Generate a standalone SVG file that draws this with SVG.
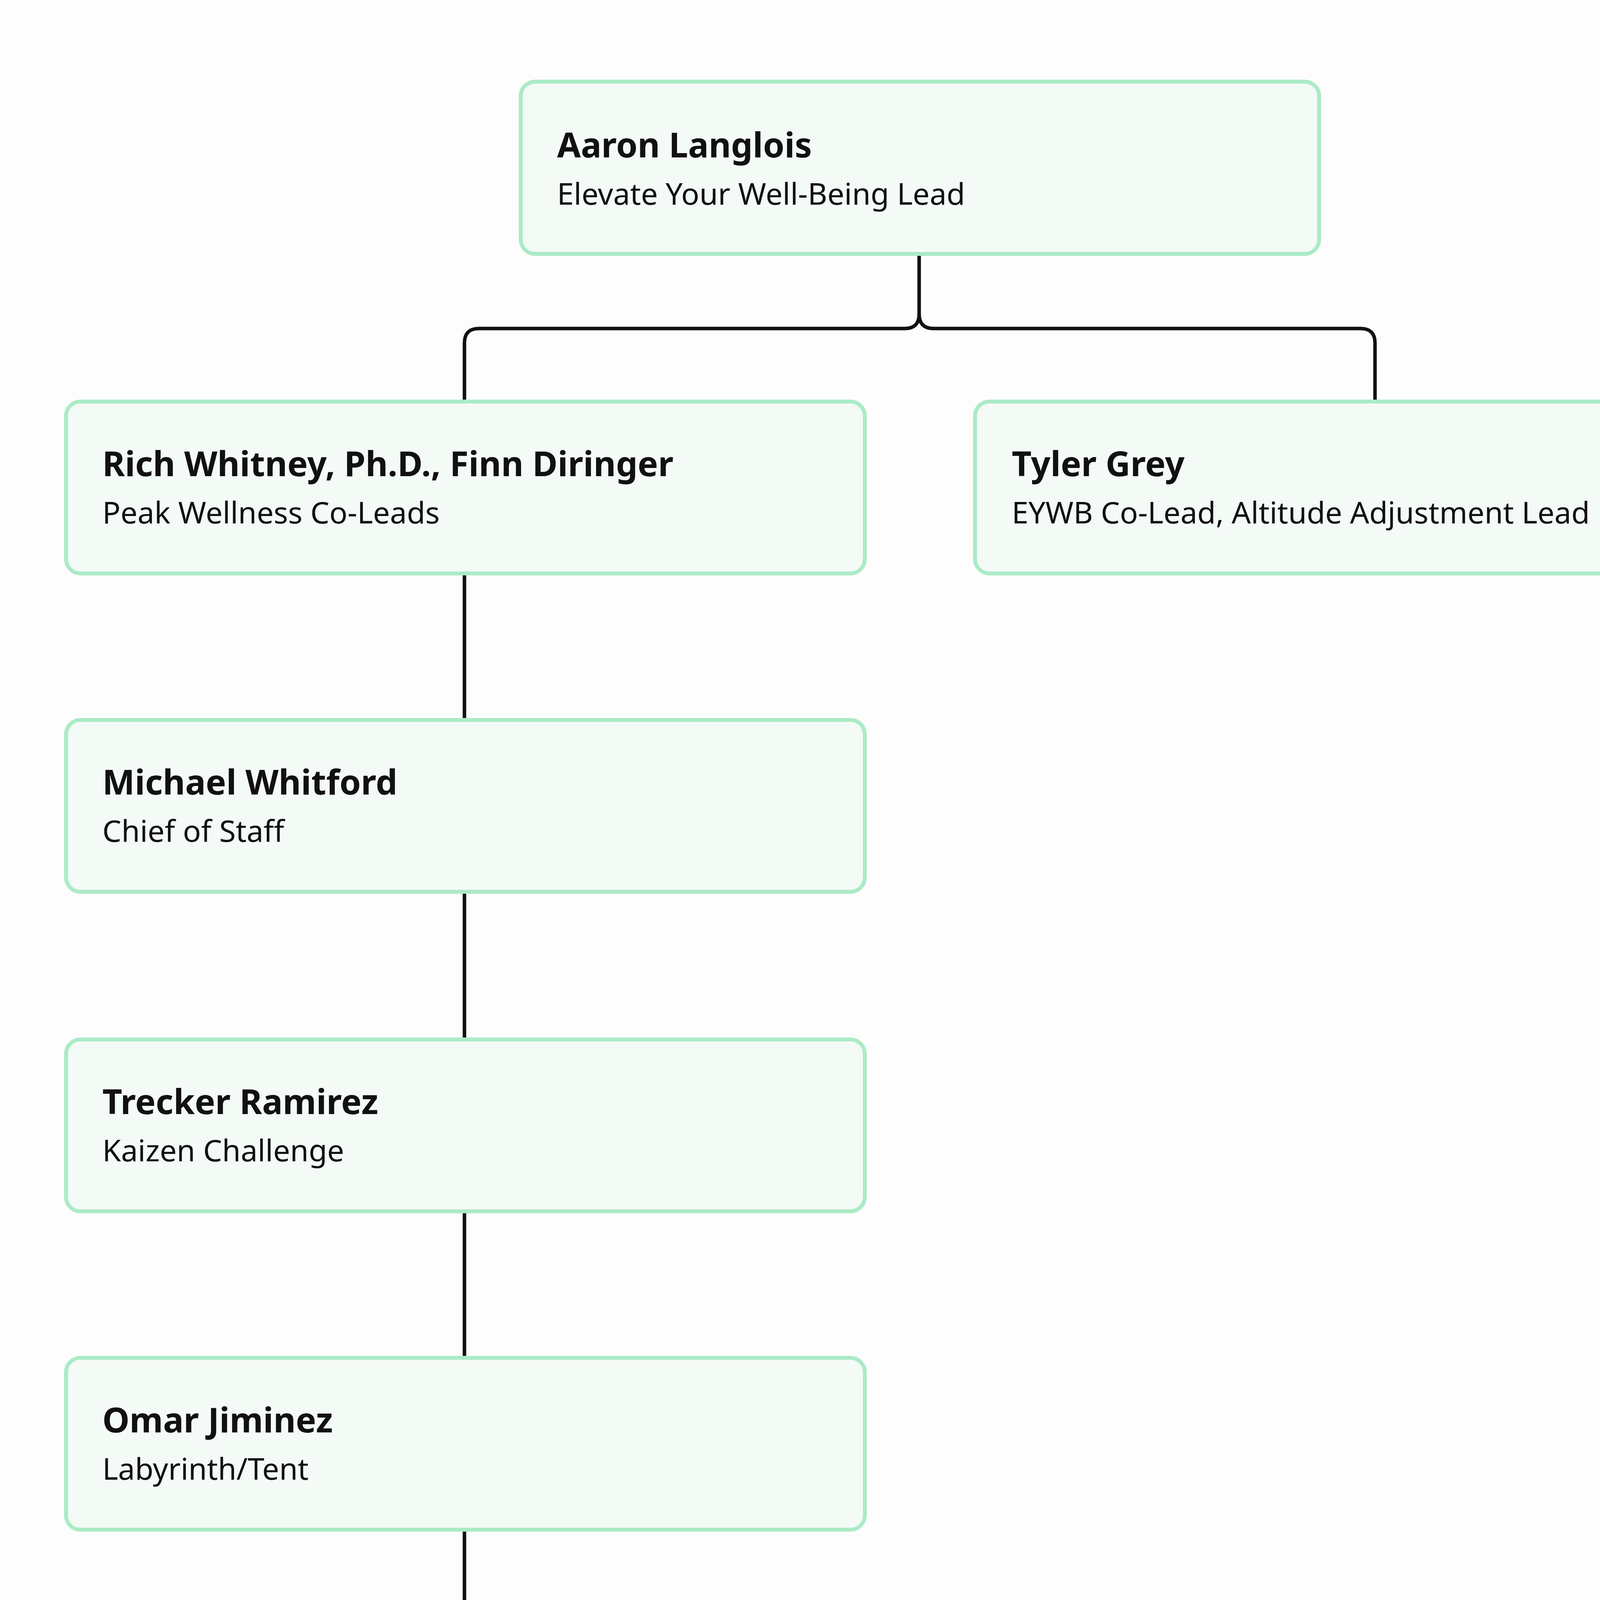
<svg xmlns="http://www.w3.org/2000/svg" width="4787" height="5756" viewBox="0 0 4787 5756">
<style>
.box{fill:#f4faf6;stroke:#abebc6;stroke-width:10}
.n{font-family:"Noto Sans",sans-serif;font-weight:700;font-size:88px;fill:#111}
.s{font-family:"Noto Sans",sans-serif;font-size:77px;fill:#111}
.c{fill:none;stroke:#111;stroke-width:9}
</style>
<rect width="4787" height="5756" fill="#fdfdfd"/>
<path d="M4772 0V5756" stroke="#e4e4e4" stroke-width="6"/>
<g id="connectors">
<path class="c" d="M2353 650V804Q2353 841 2316 841H1226Q1189 841 1189 878V1028"/>
<path class="c" d="M2353 804Q2353 841 2390 841H3483Q3520 841 3520 878V1028"/>
<path class="c" d="M1189 1468V1843M1189 2283V2661M1189 3101V3476M1189 3916V4295M1189 4735V5110"/>
</g>
<g id="aaron"><rect class="box" x="1333" y="209" width="2044" height="441" rx="37"/><text class="n" x="1426" y="403">Aaron Langlois</text><text class="s" x="1426" y="524">Elevate Your Well-Being Lead</text></g>
<g id="rich"><rect class="box" x="169" y="1028" width="2045" height="440" rx="37"/><text class="n" x="262" y="1219">Rich Whitney, Ph.D., Finn Diringer</text><text class="s" x="262" y="1340">Peak Wellness Co-Leads</text></g>
<g id="tyler"><rect class="box" x="2496" y="1028" width="2049" height="440" rx="37"/><text class="n" x="2590" y="1219">Tyler Grey</text><text class="s" x="2590" y="1340">EYWB Co-Lead, Altitude Adjustment Lead</text></g>
<g id="michael"><rect class="box" x="169" y="1843" width="2045" height="440" rx="37"/><text class="n" x="262" y="2034">Michael Whitford</text><text class="s" x="262" y="2155">Chief of Staff</text></g>
<g id="trecker"><rect class="box" x="169" y="2661" width="2045" height="440" rx="37"/><text class="n" x="262" y="2852">Trecker Ramirez</text><text class="s" x="262" y="2973">Kaizen Challenge</text></g>
<g id="omar"><rect class="box" x="169" y="3476" width="2045" height="440" rx="37"/><text class="n" x="262" y="3667">Omar Jiminez</text><text class="s" x="262" y="3788">Labyrinth/Tent</text></g>
<g id="henry"><rect class="box" x="169" y="4295" width="2045" height="440" rx="37"/><text class="n" x="262" y="4486">Henry Lloyd</text><text class="s" x="262" y="4607">Peak Wellness Passport</text></g>
<g id="skylar"><rect class="box" x="169" y="5110" width="2045" height="440" rx="37"/><text class="n" x="262" y="5301">Skylar Lariviere</text><text class="s" x="262" y="5422">Communications</text></g>
</svg>
